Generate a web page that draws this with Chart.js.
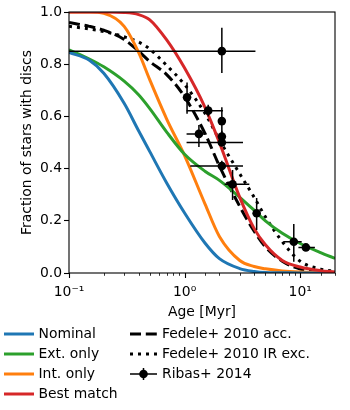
<!DOCTYPE html>
<html>
<head>
<meta charset="utf-8">
<script src="https://cdn.jsdelivr.net/npm/chart.js@4.4.0/dist/chart.umd.min.js"></script>
<style>
  body { margin: 0; background: #fff; }
</style>
</head>
<body>
<canvas id="chart" width="350" height="410"></canvas>
<script>
// ages [Myr] the model / Fedele curves are sampled at
const ages = [0.1, 0.15, 0.2, 0.3, 0.4, 0.5, 0.7, 1, 1.5, 2, 3, 4, 5, 7, 10, 15, 20];

const nominal  = [0.845, 0.815, 0.765, 0.65, 0.545, 0.465, 0.345, 0.23, 0.115, 0.055, 0.017, 0.006, 0.002, 0.001, 0, 0, 0];
const extOnly  = [0.855, 0.82, 0.79, 0.735, 0.683, 0.63, 0.54, 0.455, 0.39, 0.355, 0.29, 0.24, 0.2, 0.152, 0.113, 0.078, 0.056];
const intOnly  = [1, 1, 0.995, 0.945, 0.845, 0.74, 0.59, 0.45, 0.265, 0.14, 0.048, 0.025, 0.016, 0.008, 0.004, 0.002, 0.001];
const bestMatch = [1, 1, 1, 0.998, 0.99, 0.97, 0.893, 0.785, 0.635, 0.5, 0.29, 0.17, 0.108, 0.048, 0.023, 0.009, 0.004];
const fedeleAcc = [0.96, 0.945, 0.93, 0.895, 0.85, 0.81, 0.76, 0.675, 0.535, 0.41, 0.255, 0.16, 0.1, 0.045, 0.015, 0.004, 0.001];
const fedeleIR  = [0.945, 0.935, 0.925, 0.905, 0.885, 0.858, 0.795, 0.722, 0.612, 0.51, 0.38, 0.29, 0.215, 0.12, 0.045, 0.015, 0.006];

// Ribas+ 2014 points with error ranges
const ribasAge    = [1.05, 1.6, 2.1, 1.33, 2.1, 2.1, 2.1, 2.6, 4.2, 8.8, 11.2, 2.1];
const ribasFrac   = [0.673, 0.622, 0.582, 0.533, 0.523, 0.5, 0.41, 0.34, 0.229, 0.12, 0.098, 0.85];
const ribasAgeLo  = [1.0, 1.04, 2.0, 1.04, 2.0, 1.04, 1.12, 2.22, 3.9, 7.2, 9.65, 0.1];
const ribasAgeHi  = [1.1, 2.15, 2.2, 1.55, 2.2, 3.2, 3.2, 3.63, 4.5, 10.3, 13.4, 4.1];
const ribasFracLo = [0.61, 0.6, 0.53, 0.483, 0.5, 0.49, 0.39, 0.28, 0.165, 0.043, 0.09, 0.766];
const ribasFracHi = [0.73, 0.645, 0.635, 0.567, 0.545, 0.51, 0.43, 0.395, 0.287, 0.188, 0.105, 0.94];

const xTickLabels = { '-1': '10⁻¹', '0': '10⁰', '1': '10¹' };

const FONT = "'DejaVu Sans', sans-serif";
const FS = 13.9;

function curve(vals) {
    return ages.map((a, i) => ({ x: a, y: vals[i] }));
}

Chart.defaults.font.family = FONT;
Chart.defaults.font.size = FS;
Chart.defaults.color = '#000';

// error bars for the Ribas points, drawn above the lines but under the markers
const errorBars = {
    id: 'errorBars',
    beforeDatasetDraw(chart, args) {
        const ds = chart.data.datasets[args.index];
        if (ds.label !== 'Ribas+ 2014') return;
        const { ctx, chartArea: a } = chart;
        const xs = chart.scales.x, ys = chart.scales.y;
        ctx.save();
        ctx.beginPath();
        ctx.rect(a.left, a.top, a.right - a.left, a.bottom - a.top);
        ctx.clip();
        ctx.strokeStyle = '#000';
        ctx.lineWidth = 1.5;
        ribasAge.forEach((age, i) => {
            const px = xs.getPixelForValue(age), py = ys.getPixelForValue(ribasFrac[i]);
            ctx.beginPath();
            ctx.moveTo(xs.getPixelForValue(ribasAgeLo[i]), py);
            ctx.lineTo(xs.getPixelForValue(ribasAgeHi[i]), py);
            ctx.moveTo(px, ys.getPixelForValue(ribasFracLo[i]));
            ctx.lineTo(px, ys.getPixelForValue(ribasFracHi[i]));
            ctx.stroke();
        });
        ctx.restore();
    }
};

// frame, log minor ticks and the two-column legend
const decorations = {
    id: 'decorations',
    afterDraw(chart) {
        const { ctx, chartArea: a } = chart;
        const xs = chart.scales.x;
        ctx.save();
        ctx.strokeStyle = '#000';

        xs.ticks.forEach(t => {
            const lg = Math.log10(t.value);
            const major = Math.abs(lg - Math.round(lg)) < 1e-6;
            const px = Math.round(xs.getPixelForValue(t.value)) + 0.5;
            ctx.lineWidth = major ? 1.1 : 0.8;
            ctx.beginPath();
            ctx.moveTo(px, a.bottom);
            ctx.lineTo(px, a.bottom + (major ? 5 : 2.8));
            ctx.stroke();
        });

        ctx.lineWidth = 1.1;
        ctx.strokeRect(a.left, a.top, a.right - a.left, a.bottom - a.top);

        // legend
        const cols = [
            { x0: 4, x1: 34, tx: 38.5, rows: [0, 1, 2, 3] },
            { x0: 130, x1: 157, tx: 162, rows: [4, 5, 6] }
        ];
        const rowY = [334, 354, 374, 394];
        ctx.font = FS + 'px ' + FONT;
        ctx.textBaseline = 'middle';
        ctx.fillStyle = '#000';
        cols.forEach(col => {
            col.rows.forEach((di, r) => {
                const ds = chart.data.datasets[di];
                const y = rowY[r];
                ctx.save();
                if (ds.label === 'Ribas+ 2014') {
                    const cx = (col.x0 + col.x1) / 2;
                    ctx.lineWidth = 1.5;
                    ctx.beginPath();
                    ctx.moveTo(col.x0, y); ctx.lineTo(col.x1, y);
                    ctx.moveTo(cx, y - 6); ctx.lineTo(cx, y + 6);
                    ctx.stroke();
                    ctx.beginPath();
                    ctx.arc(cx, y, ds.pointRadius, 0, Math.PI * 2);
                    ctx.fill();
                } else {
                    ctx.strokeStyle = ds.borderColor;
                    ctx.lineWidth = ds.borderWidth;
                    ctx.lineCap = 'butt';
                    ctx.setLineDash(ds.borderDash || []);
                    ctx.beginPath();
                    ctx.moveTo(col.x0, y); ctx.lineTo(col.x1, y);
                    ctx.stroke();
                }
                ctx.restore();
                ctx.fillText(ds.label, col.tx, y);
            });
        });
        ctx.restore();
    }
};

const ctx = document.getElementById('chart').getContext('2d');

const lineBase = {
    showLine: true,
    pointRadius: 0,
    pointHoverRadius: 0,
    borderWidth: 3,
    cubicInterpolationMode: 'monotone',
    fill: false,
    clip: 0
};

const chart = new Chart(ctx, {
    type: 'line',
    data: {
        datasets: [
            Object.assign({}, lineBase, { label: 'Nominal', data: curve(nominal), borderColor: '#1f77b4', order: 2 }),
            Object.assign({}, lineBase, { label: 'Ext. only', data: curve(extOnly), borderColor: '#2ca02c', order: 2 }),
            Object.assign({}, lineBase, { label: 'Int. only', data: curve(intOnly), borderColor: '#ff7f0e', order: 2 }),
            Object.assign({}, lineBase, { label: 'Best match', data: curve(bestMatch), borderColor: '#d62728', order: 1 }),
            Object.assign({}, lineBase, { label: 'Fedele+ 2010 acc.', data: curve(fedeleAcc), borderColor: '#000', borderDash: [11, 4.8], order: 3 }),
            Object.assign({}, lineBase, { label: 'Fedele+ 2010 IR exc.', data: curve(fedeleIR), borderColor: '#000', borderDash: [3, 5], order: 3 }),
            {
                label: 'Ribas+ 2014',
                data: ribasAge.map((a, i) => ({ x: a, y: ribasFrac[i] })),
                showLine: false,
                pointRadius: 4.3,
                pointHoverRadius: 4.3,
                pointBackgroundColor: '#000',
                pointBorderWidth: 0,
                borderColor: '#000',
                order: 0
            }
        ]
    },
    options: {
        responsive: false,
        animation: false,
        events: [],
        layout: { padding: { left: 15, right: 15, top: 12, bottom: 85 } },
        plugins: {
            legend: { display: false },
            tooltip: { enabled: false }
        },
        scales: {
            x: {
                type: 'logarithmic',
                min: 0.1,
                max: 20,
                border: { display: false },
                grid: { drawOnChartArea: false, drawTicks: true, tickLength: 5, tickColor: 'rgba(0,0,0,0)' },
                ticks: {
                    autoSkip: false,
                    maxRotation: 0,
                    padding: 6,
                    callback: v => {
                        const lg = Math.log10(v);
                        if (Math.abs(lg - Math.round(lg)) < 1e-6) return xTickLabels[String(Math.round(lg))] || '';
                        return '';
                    }
                },
                title: { display: true, text: 'Age [Myr]', padding: { top: 4, bottom: 4 } },
                afterFit: s => { s.height = 52; }
            },
            y: {
                min: 0,
                max: 1,
                border: { display: false },
                grid: { drawOnChartArea: false, drawTicks: true, tickLength: 5, tickColor: '#000', tickWidth: 1.1 },
                ticks: { stepSize: 0.2, padding: 2, callback: v => v.toFixed(1) },
                title: { display: true, text: 'Fraction of stars with discs', padding: { top: 4, bottom: 4 } },
                afterFit: s => { s.width = 54; }
            }
        }
    },
    plugins: [errorBars, decorations]
});
</script>
</body>
</html>
